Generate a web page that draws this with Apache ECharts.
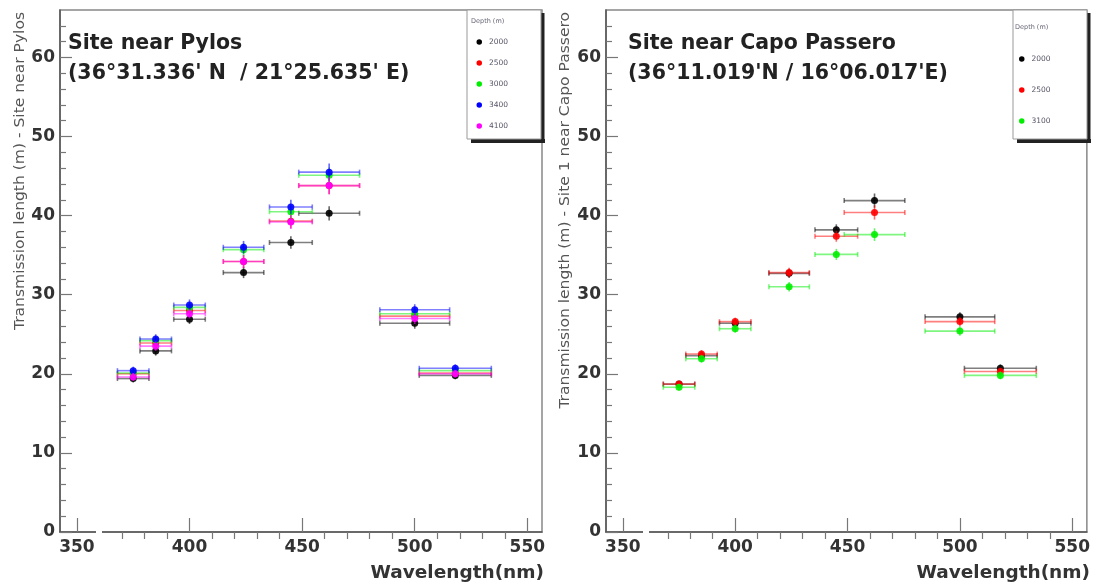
<!DOCTYPE html>
<html>
<head>
<meta charset="utf-8">
<script src="https://cdn.jsdelivr.net/npm/echarts@6/dist/echarts.min.js"></script>
<style>
html,body{margin:0;padding:0;background:#fff;}
#c{width:1093px;height:585px;}
</style>
</head>
<body>
<div id="c"></div>
<script>
// ---- data ----
const wavelengths = [375, 385, 400, 424, 445, 462, 500, 518];
const binHalfWidths = [7, 7, 7, 9, 9.5, 13.5, 15.5, 16];

const pylosDepths = ['2000', '2500', '3000', '3400', '4100'];
const pylos2000 = [19.4, 22.9, 26.9, 32.8, 36.6, 40.3, 26.4, 19.8];
const pylos2500 = [20.0, 23.9, 28.0, 34.2, 39.3, 43.8, 27.3, 20.1];
const pylos3000 = [20.1, 24.2, 28.4, 35.7, 40.5, 45.1, 27.6, 20.4];
const pylos3400 = [20.4, 24.4, 28.7, 36.0, 41.1, 45.5, 28.1, 20.7];
const pylos4100 = [19.6, 23.5, 27.6, 34.2, 39.2, 43.8, 27.0, 20.0];
const pylosErr2000 = [0.5, 0.6, 0.6, 0.7, 0.8, 0.9, 0.7, 0.5];
const pylosErr2500 = [0.5, 0.6, 0.6, 0.8, 0.9, 1.1, 0.7, 0.5];
const pylosErr3000 = [0.5, 0.6, 0.6, 0.8, 0.9, 1.0, 0.7, 0.5];
const pylosErr3400 = [0.5, 0.6, 0.7, 0.8, 0.9, 1.1, 0.7, 0.5];
const pylosErr4100 = [0.5, 0.6, 0.6, 0.8, 0.9, 1.1, 0.7, 0.5];

const capoDepths = ['2000', '2500', '3100'];
const capo2000 = [18.7, 22.3, 26.4, 32.7, 38.2, 41.9, 27.2, 20.7];
const capo2500 = [18.7, 22.5, 26.6, 32.8, 37.4, 40.4, 26.6, 20.3];
const capo3100 = [18.3, 21.9, 25.7, 31.0, 35.1, 37.6, 25.4, 19.8];
const capoErr2000 = [0.4, 0.5, 0.5, 0.6, 0.7, 0.9, 0.6, 0.5];
const capoErr2500 = [0.4, 0.5, 0.5, 0.6, 0.7, 0.9, 0.6, 0.5];
const capoErr3100 = [0.4, 0.5, 0.5, 0.6, 0.7, 0.8, 0.6, 0.5];

const xMajorTicks = [350, 400, 450, 500, 550];
const xMinorTicks = [370, 380, 390, 410, 420, 430, 440, 460, 470, 480, 490, 510, 520, 530, 540];
const yMajorTicks = [0, 10, 20, 30, 40, 50, 60];
const yMinorTicks = [2, 4, 6, 8, 12, 14, 16, 18, 22, 24, 26, 28, 32, 34, 36, 38, 42, 44, 46, 48, 52, 54, 56, 58, 62, 64];

const colors = {'2000': '#000000', '2500': '#ff0000', '3000': '#00ee00', '3100': '#00ee00', '3400': '#0000ff', '4100': '#ff00ff'};

// ---- chart ----
const FONT = 'DejaVu Sans, Liberation Sans, sans-serif';
const chart = echarts.init(document.getElementById('c'), null, {renderer: 'canvas'});

function buildData(vals, errs) {
  return wavelengths.map((w, i) => [w, vals[i], binHalfWidths[i], errs[i]]);
}

function renderErr(params, api) {
  const x = api.value(0), y = api.value(1), xe = api.value(2), ye = api.value(3);
  const c = api.coord([x, y]);
  const l = api.coord([x - xe, y]);
  const r = api.coord([x + xe, y]);
  const t = api.coord([x, y + ye]);
  const b = api.coord([x, y - ye]);
  const color = api.visual('color');
  const ls = {stroke: color, lineWidth: 1.6, opacity: 0.5};
  return {
    type: 'group',
    children: [
      {type: 'line', shape: {x1: l[0], y1: l[1], x2: r[0], y2: r[1]}, style: ls},
      {type: 'line', shape: {x1: l[0], y1: l[1] - 2.5, x2: l[0], y2: l[1] + 2.5}, style: ls},
      {type: 'line', shape: {x1: r[0], y1: r[1] - 2.5, x2: r[0], y2: r[1] + 2.5}, style: ls},
      {type: 'line', shape: {x1: t[0], y1: t[1], x2: b[0], y2: b[1]}, style: {stroke: color, lineWidth: 1.6, opacity: 0.6}},
      {type: 'circle', shape: {cx: c[0], cy: c[1], r: 3.5}, style: {fill: color, opacity: 0.9}}
    ]
  };
}

function makeSeries(name, vals, errs, gi) {
  return {
    type: 'custom',
    name: name,
    xAxisIndex: gi * 2,
    yAxisIndex: gi * 2,
    itemStyle: {color: colors[name]},
    renderItem: renderErr,
    encode: {x: 0, y: 1},
    data: buildData(vals, errs),
    z: 5
  };
}

function xAxes(gi) {
  return [
    {
      type: 'value', gridIndex: gi, min: 342.5, max: 556.5,
      axisLine: {show: true, lineStyle: {color: '#555', width: 1.5}},
      axisTick: {show: true, inside: true, length: 14, customValues: xMajorTicks, lineStyle: {color: '#777', width: 1.2}},
      axisLabel: {show: true, customValues: xMajorTicks, margin: 7, fontFamily: FONT, fontSize: 17, fontWeight: 'bold', color: '#333'},
      splitLine: {show: false}
    },
    {
      type: 'value', gridIndex: gi, min: 342.5, max: 556.5,
      axisLine: {show: false},
      axisTick: {show: true, inside: true, length: 7, customValues: xMinorTicks, lineStyle: {color: '#777', width: 1.2}},
      axisLabel: {show: false},
      splitLine: {show: false}
    }
  ];
}

function yAxes(gi) {
  return [
    {
      type: 'value', gridIndex: gi, min: 0, max: 66, position: 'left',
      axisLine: {show: true, lineStyle: {color: '#555', width: 1.5}},
      axisTick: {show: true, inside: true, length: 12, customValues: yMajorTicks, lineStyle: {color: '#777', width: 1.2}},
      axisLabel: {show: true, customValues: yMajorTicks, margin: 5, fontFamily: FONT, fontSize: 17, fontWeight: 'bold', color: '#333'},
      splitLine: {show: false}
    },
    {
      type: 'value', gridIndex: gi, min: 0, max: 66, position: 'left',
      axisLine: {show: false},
      axisTick: {show: true, inside: true, length: 6, customValues: yMinorTicks, lineStyle: {color: '#777', width: 1.2}},
      axisLabel: {show: false},
      splitLine: {show: false}
    }
  ];
}

const legendCommon = {
  orient: 'vertical',
  icon: 'circle',
  itemWidth: 5.5,
  itemHeight: 5.5,
  itemGap: 14,
  textStyle: {fontFamily: FONT, fontSize: 7.5, color: '#556', lineHeight: 8, padding: [0, 0, 0, 2]},
  padding: 0,
  selectedMode: false
};

const titleStyle = {fontFamily: FONT, fontSize: 20.5, fontWeight: 'bold', color: '#222', lineHeight: 30};

const option = {
  animation: false,
  backgroundColor: '#fff',
  title: [
    {text: "Site near Pylos\n(36°31.336' N  / 21°25.635' E)", left: 63, top: 24, textStyle: titleStyle},
    {text: "Site near Capo Passero\n(36°11.019'N / 16°06.017'E)", left: 623, top: 24, textStyle: titleStyle}
  ],
  grid: [
    {left: 60, top: 10, width: 482, height: 522, show: true, borderColor: '#888', borderWidth: 1.5, backgroundColor: 'transparent'},
    {left: 606, top: 10, width: 482, height: 522, show: true, borderColor: '#888', borderWidth: 1.5, backgroundColor: 'transparent'}
  ],
  xAxis: [...xAxes(0), ...xAxes(1)],
  yAxis: [...yAxes(0), ...yAxes(1)],
  legend: [
    Object.assign({}, legendCommon, {data: pylosDepths, left: 476.5, top: 38, itemGap: 13}),
    Object.assign({}, legendCommon, {data: capoDepths, left: 1019, top: 55, itemGap: 23})
  ],
  graphic: [
    // legend boxes with ROOT-style shadow
    {type: 'rect', shape: {x: 471, y: 139, width: 74, height: 4}, style: {fill: '#222'}, z: 1},
    {type: 'rect', shape: {x: 541, y: 13, width: 3.5, height: 130}, style: {fill: '#222'}, z: 1},
    {type: 'rect', shape: {x: 467, y: 10, width: 74, height: 129}, style: {fill: '#fff', stroke: '#999', lineWidth: 1}, z: 2},
    {type: 'rect', shape: {x: 1017, y: 139, width: 74, height: 4}, style: {fill: '#222'}, z: 1},
    {type: 'rect', shape: {x: 1087, y: 13, width: 3.5, height: 130}, style: {fill: '#222'}, z: 1},
    {type: 'rect', shape: {x: 1013, y: 10, width: 74, height: 129}, style: {fill: '#fff', stroke: '#999', lineWidth: 1}, z: 2},
    {type: 'text', x: 471, y: 21, z: 3, style: {text: 'Depth (m)', fontFamily: FONT, fontSize: 6.5, fill: '#667', textVerticalAlign: 'middle'}},
    {type: 'text', x: 1015, y: 27, z: 3, style: {text: 'Depth (m)', fontFamily: FONT, fontSize: 6.5, fill: '#667', textVerticalAlign: 'middle'}},
    // axis breaks
    {type: 'rect', shape: {x: 96, y: 529, width: 6, height: 6}, style: {fill: '#fff'}, z: 10},
    {type: 'rect', shape: {x: 643, y: 529, width: 6, height: 6}, style: {fill: '#fff'}, z: 10},
    // x-axis titles
    {type: 'text', x: 544, y: 573, z: 3, style: {text: 'Wavelength(nm)', fontFamily: FONT, fontSize: 18.5, fontWeight: 'bold', fill: '#333', textAlign: 'right', textVerticalAlign: 'middle'}},
    {type: 'text', x: 1090, y: 573, z: 3, style: {text: 'Wavelength(nm)', fontFamily: FONT, fontSize: 18.5, fontWeight: 'bold', fill: '#333', textAlign: 'right', textVerticalAlign: 'middle'}},
    // y-axis titles
    {type: 'text', x: 20, y: 12, rotation: Math.PI / 2, scaleX: 1.11, z: 3, style: {text: 'Transmission length (m) - Site near Pylos', fontFamily: FONT, fontSize: 14, fill: '#555', textAlign: 'right', textVerticalAlign: 'middle'}},
    {type: 'text', x: 565, y: 12, rotation: Math.PI / 2, scaleX: 1.11, z: 3, style: {text: 'Transmission length (m) - Site 1 near Capo Passero', fontFamily: FONT, fontSize: 14, fill: '#555', textAlign: 'right', textVerticalAlign: 'middle'}}
  ],
  series: [
    makeSeries('2000', pylos2000, pylosErr2000, 0),
    makeSeries('2500', pylos2500, pylosErr2500, 0),
    makeSeries('3000', pylos3000, pylosErr3000, 0),
    makeSeries('3400', pylos3400, pylosErr3400, 0),
    makeSeries('4100', pylos4100, pylosErr4100, 0),
    Object.assign(makeSeries('2000', capo2000, capoErr2000, 1), {id: 'c2000'}),
    Object.assign(makeSeries('2500', capo2500, capoErr2500, 1), {id: 'c2500'}),
    Object.assign(makeSeries('3100', capo3100, capoErr3100, 1), {id: 'c3100'})
  ]
};
chart.setOption(option);
</script>
</body>
</html>
